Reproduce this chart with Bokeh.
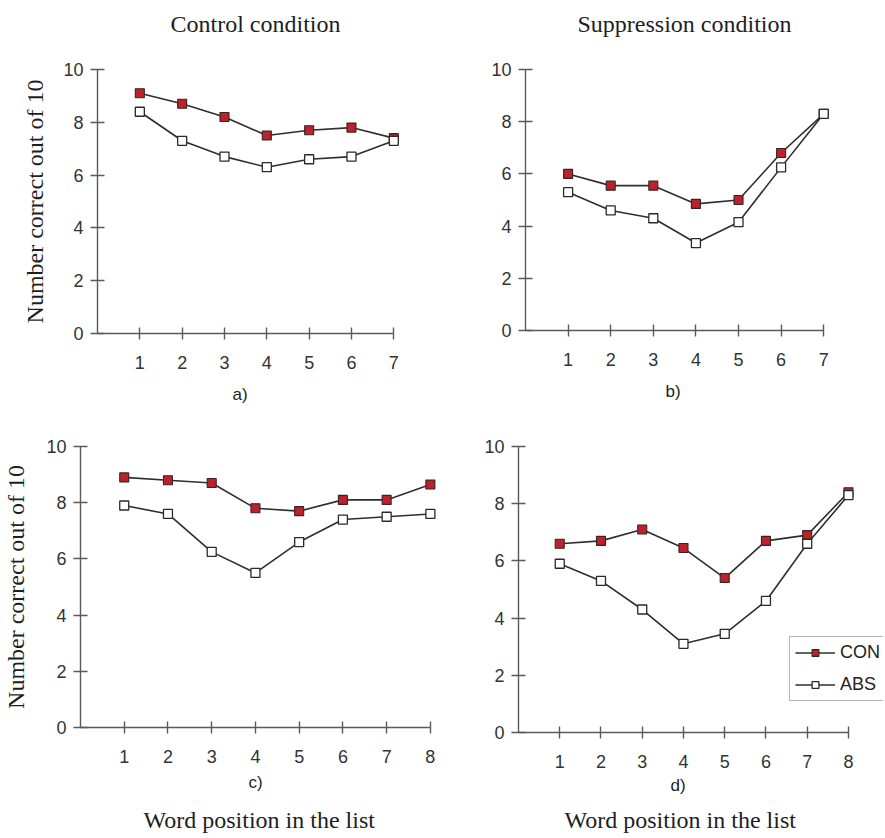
from bokeh.plotting import figure
from bokeh.layouts import column, row
from bokeh.models import Legend, LegendItem, FixedTicker, Title
from bokeh.embed import file_html
from bokeh.resources import INLINE

# ---------------- data ----------------
pos7 = [1, 2, 3, 4, 5, 6, 7]
pos8 = [1, 2, 3, 4, 5, 6, 7, 8]

a_con = [9.1, 8.7, 8.2, 7.5, 7.7, 7.8, 7.4]
a_abs = [8.4, 7.3, 6.7, 6.3, 6.6, 6.7, 7.3]

b_con = [6.0, 5.55, 5.55, 4.85, 5.0, 6.8, 8.3]
b_abs = [5.3, 4.6, 4.3, 3.35, 4.15, 6.25, 8.3]

c_con = [8.9, 8.8, 8.7, 7.8, 7.7, 8.1, 8.1, 8.65]
c_abs = [7.9, 7.6, 6.25, 5.5, 6.6, 7.4, 7.5, 7.6]

d_con = [6.6, 6.7, 7.1, 6.45, 5.4, 6.7, 6.9, 8.4]
d_abs = [5.9, 5.3, 4.3, 3.1, 3.45, 4.6, 6.6, 8.3]

y_ticks = [0, 2, 4, 6, 8, 10]
series_names = ["CON", "ABS"]
panel_letters = ["a)", "b)", "c)", "d)"]
titles = ["Control condition", "Suppression condition"]
y_label = "Number correct out of 10"
x_label = "Word position in the list"

# ---------------- style ----------------
SERIF = "Liberation Serif"
SANS = "Liberation Sans"
AXIS_COL = "#5a5a5a"
LINE_COL = "#2e2e2e"
RED = "#b8232c"
TXT = "#1e1e1e"


def make_panel(nx, x_end, fw, fh, bl, br, bt, bb):
    p = figure(frame_width=fw, frame_height=fh, output_backend="svg", toolbar_location=None,
               x_range=(0, x_end), y_range=(0, 10),
               min_border_left=bl, min_border_right=br,
               min_border_top=bt, min_border_bottom=bb)
    p.outline_line_color = None
    p.xgrid.grid_line_color = None
    p.ygrid.grid_line_color = None
    p.background_fill_color = "white"
    p.border_fill_color = "white"
    p.xaxis.ticker = FixedTicker(ticks=list(range(1, nx + 1)))
    p.yaxis.ticker = FixedTicker(ticks=y_ticks)
    p.xaxis.bounds = (0, nx)
    for ax in (p.xaxis, p.yaxis):
        ax.axis_line_color = AXIS_COL
        ax.axis_line_width = 1.4
        ax.major_tick_line_color = AXIS_COL
        ax.major_tick_line_width = 1.4
        ax.minor_tick_line_color = None
        ax.major_label_text_font = SANS
        ax.major_label_text_font_size = "18px"
        ax.major_label_text_color = "#333333"
        ax.axis_label_text_font = SERIF
        ax.axis_label_text_font_size = "24px"
        ax.axis_label_text_font_style = "normal"
        ax.axis_label_text_color = TXT
    p.xaxis.major_tick_in = 6
    p.xaxis.major_tick_out = 6
    p.xaxis.major_label_standoff = 16
    p.yaxis.major_tick_in = 7
    p.yaxis.major_tick_out = 7
    p.yaxis.major_label_standoff = 7
    return p


def add_series(p, xs, con, abs_):
    l1 = p.line(xs, con, line_color=LINE_COL, line_width=1.6)
    s1 = p.scatter(xs, con, marker="square", size=9, fill_color=RED,
                   line_color="#3a2222", line_width=1.1)
    l2 = p.line(xs, abs_, line_color=LINE_COL, line_width=1.6)
    s2 = p.scatter(xs, abs_, marker="square", size=9, fill_color="white",
                   line_color="#2a2a2a", line_width=1.3)
    return [l1, s1], [l2, s2]


def spacer(p, side, gap):
    # blank title used only to push the next title away from the frame
    p.add_layout(Title(text=" ", text_font_size="1px", standoff=gap), side)


def add_title(p, text, side, offset, font, size, standoff=2):
    p.add_layout(Title(text=text, align="left", offset=offset, standoff=standoff,
                       vertical_align="top", text_font=font, text_font_size=size,
                       text_font_style="normal", text_color=TXT), side)


# ---------- panel a ----------
pa = make_panel(7, 7.3, 309, 264, 97, 34, 69, 75)
add_series(pa, pos7, a_con, a_abs)
pa.yaxis.axis_label = y_label
pa.yaxis.axis_label_standoff = 12
spacer(pa, "above", 26)
add_title(pa, titles[0], "above", 73, SERIF, "24px", standoff=4)
spacer(pa, "below", 9)
add_title(pa, panel_letters[0], "below", 135, SANS, "17px")

# ---------- panel b ----------
pb = make_panel(7, 7.3, 311, 261, 85, 48, 69, 78)
add_series(pb, pos7, b_con, b_abs)
spacer(pb, "above", 26)
add_title(pb, titles[1], "above", 52, SERIF, "24px", standoff=4)
spacer(pb, "below", 9)
add_title(pb, panel_letters[1], "below", 140, SANS, "17px")

# ---------- panel c ----------
pc = make_panel(8, 8.3, 363, 281, 79, 6, 38, 110)
add_series(pc, pos8, c_con, c_abs)
pc.yaxis.axis_label = y_label
pc.yaxis.axis_label_standoff = 14
spacer(pc, "below", 3)
add_title(pc, panel_letters[2], "below", 168, SANS, "17px")
spacer(pc, "below", 8)
add_title(pc, x_label, "below", 63, SERIF, "24px")

# ---------- panel d ----------
pd_ = make_panel(8, 8.85, 365, 286, 69, 2, 38, 105)
con_r, abs_r = add_series(pd_, pos8, d_con, d_abs)
spacer(pd_, "below", 1)
add_title(pd_, panel_letters[3], "below", 152, SANS, "17px")
spacer(pd_, "below", 5)
add_title(pd_, x_label, "below", 46, SERIF, "24px")

legend = Legend(items=[LegendItem(label=series_names[0], renderers=con_r),
                       LegendItem(label=series_names[1], renderers=abs_r)],
                location=(788 - 517, 732 - 701),
                label_text_font=SANS, label_text_font_size="18px",
                label_text_color="#222222",
                glyph_width=40, glyph_height=17, label_height=20, label_standoff=5,
                spacing=11, padding=5, margin=0,
                border_line_color="#6a6a6a", border_line_width=1.6,
                background_fill_color="white", background_fill_alpha=1.0)
pd_.add_layout(legend, "center")

layout = column(row(pa, pb), row(pc, pd_))
open("out.html", "w").write(file_html(layout, INLINE))
